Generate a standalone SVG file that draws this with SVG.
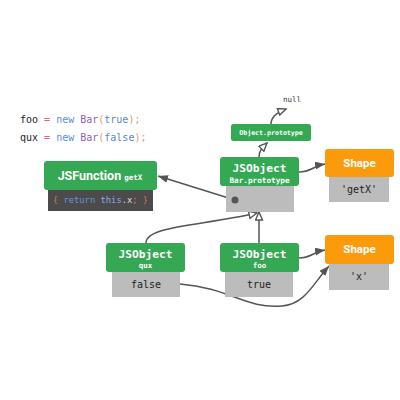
<svg xmlns="http://www.w3.org/2000/svg" width="400" height="400" viewBox="0 0 400 400">
<defs>
<style>
.g{fill:#34a853}
.o{fill:#fb9a0a}
.gr{fill:#bcbcbc}
.dk{fill:#4b4b4b}
.mono{font-family:"DejaVu Sans Mono","Liberation Mono",monospace}
.sans{font-family:Roboto,"Liberation Sans",sans-serif}
.wt{fill:#fff;font-weight:bold;text-anchor:middle}
.val{fill:#222;text-anchor:middle;font-size:10px}
.c{fill:none;stroke:#555;stroke-width:1.5}
</style>
<marker id="fa" markerUnits="userSpaceOnUse" markerWidth="12" markerHeight="10" refX="10" refY="4" orient="auto">
<path d="M0,0 L10,4 L0,8 Z" fill="#555"/>
</marker>
<marker id="oa" markerUnits="userSpaceOnUse" markerWidth="12" markerHeight="10" refX="9" refY="4" orient="auto">
<path d="M1,0.5 L9,4 L1,7.5 Z" fill="#fff" stroke="#555" stroke-width="1.4"/>
</marker>
</defs>
<rect width="400" height="400" fill="#fff"/>
<g id="code" class="mono" font-size="10">
<text x="20" y="123"><tspan fill="#222">foo</tspan><tspan fill="#e0667f"> = </tspan><tspan fill="#5b8de0">new</tspan><tspan fill="#8e5fbf"> Bar</tspan><tspan fill="#e39a6a">(</tspan><tspan fill="#5b86c9">true</tspan><tspan fill="#e39a6a">);</tspan></text>
<text x="20" y="141"><tspan fill="#222">qux</tspan><tspan fill="#e0667f"> = </tspan><tspan fill="#5b8de0">new</tspan><tspan fill="#8e5fbf"> Bar</tspan><tspan fill="#e39a6a">(</tspan><tspan fill="#5b86c9">false</tspan><tspan fill="#e39a6a">);</tspan></text>
</g>
<g id="connectors">
<path class="c" d="M259,157 C259,150 263,147 267,143" marker-end="url(#oa)"/>
<path class="c" d="M271,124 C271,116 278,112 286,109" marker-end="url(#oa)"/>
<path class="c" d="M299,172 C311,172 313,166 325,164" marker-end="url(#fa)"/>
<path class="c" d="M299,258 C311,258 313,252 325,250" marker-end="url(#fa)"/>
<path class="c" d="M235,200 L158,176" marker-end="url(#fa)"/>
<path class="c" d="M146,243 C146,226 200,226 257,213" marker-end="url(#oa)"/>
<path class="c" d="M259,243 L259,212" marker-end="url(#oa)"/>
<path class="c" d="M180,284 C230,288 245,309 282,306 C305,304 312,285 329,266" marker-end="url(#fa)"/>
</g>
<g id="null"><text class="mono" x="292" y="102" font-size="7.5" fill="#333" text-anchor="middle">null</text></g>
<g id="objproto">
<rect class="g" x="231" y="124" width="80" height="17" rx="2.5"/>
<text class="mono wt" x="271" y="135" font-size="6.6">Object.prototype</text>
</g>
<g id="jsfunction">
<rect class="dk" x="48" y="189" width="105" height="22"/>
<rect class="g" x="44" y="161" width="113" height="29" rx="3"/>
<text class="wt" x="100" y="180"><tspan class="sans" font-size="12.5">JSFunction </tspan><tspan class="mono" font-size="7.5">getX</tspan></text>
<text class="mono" x="100.5" y="203" font-size="8.8" text-anchor="middle"><tspan fill="#c27a5c">{ </tspan><tspan fill="#6f90d6">return </tspan><tspan fill="#8ba9e6">this</tspan><tspan fill="#ddd">.x</tspan><tspan fill="#c27a5c">; }</tspan></text>
</g>
<g id="barproto">
<rect class="gr" x="226" y="185" width="68" height="27"/>
<rect class="g" x="220" y="157" width="79" height="29" rx="3"/>
<text class="mono wt" x="259.5" y="172" font-size="11.2">JSObject</text>
<text class="mono wt" x="259.5" y="182.5" font-size="7.7">Bar.prototype</text>
<circle cx="235" cy="200" r="3.5" fill="#555"/>
</g>
<g id="shape1">
<rect class="gr" x="329" y="176" width="60" height="26"/>
<rect class="o" x="325" y="149" width="69" height="28" rx="3"/>
<text class="sans wt" x="359.5" y="167" font-size="11.5">Shape</text>
<text class="mono val" x="359" y="193" font-size="9.5">'getX'</text>
</g>
<g id="qux">
<rect class="gr" x="112" y="271" width="68" height="26"/>
<rect class="g" x="106" y="243" width="79" height="29" rx="3"/>
<text class="mono wt" x="145.5" y="258" font-size="11.2">JSObject</text>
<text class="mono wt" x="145.5" y="268" font-size="7.5">qux</text>
<text class="mono val" x="146" y="288">false</text>
</g>
<g id="foo">
<rect class="gr" x="225" y="271" width="68" height="26"/>
<rect class="g" x="220" y="243" width="79" height="29" rx="3"/>
<text class="mono wt" x="259.5" y="258" font-size="11.2">JSObject</text>
<text class="mono wt" x="259.5" y="268" font-size="7.5">foo</text>
<text class="mono val" x="259" y="288">true</text>
</g>
<g id="shape2">
<rect class="gr" x="329" y="263" width="60" height="27"/>
<rect class="o" x="325" y="235" width="69" height="29" rx="3"/>
<text class="sans wt" x="359.5" y="253" font-size="11.5">Shape</text>
<text class="mono val" x="359" y="280" font-size="9.5">'x'</text>
</g>
</svg>
